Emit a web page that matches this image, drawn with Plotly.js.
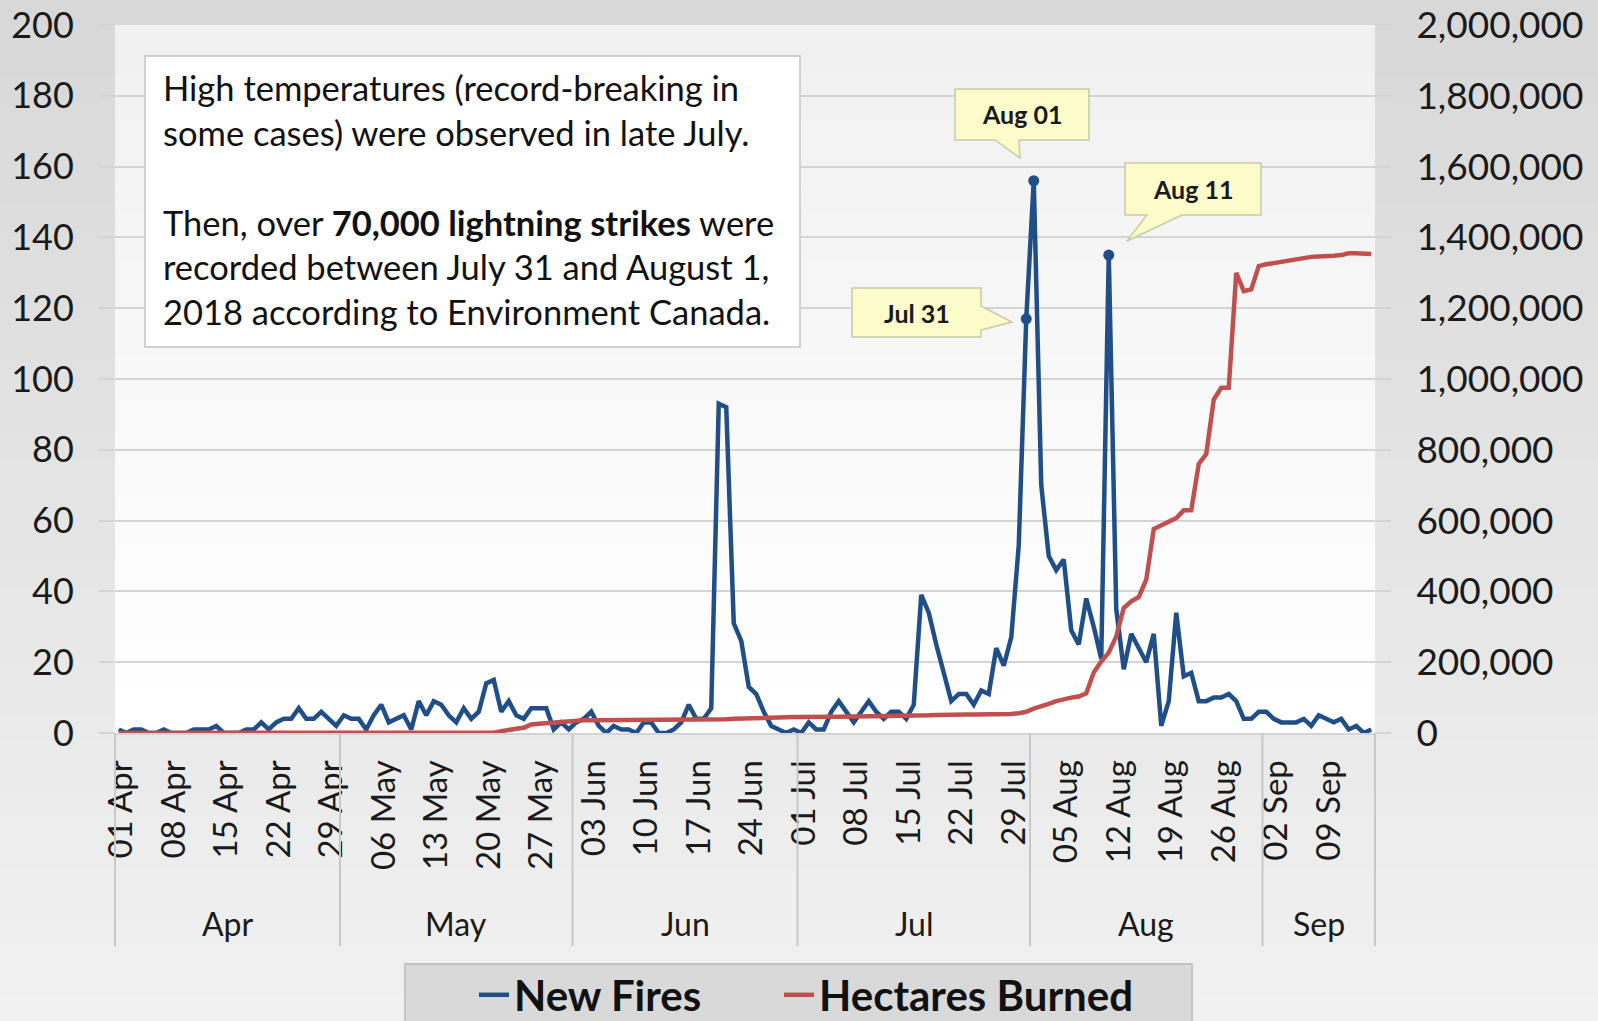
<!DOCTYPE html>
<html>
<head>
<meta charset="utf-8">
<script src="https://cdn.plot.ly/plotly-3.0.1.min.js"></script>
<style>
html,body{margin:0;padding:0;background:#e6e6e6;}
#chart{width:1598px;height:1021px;}
</style>
</head>
<body>
<div id="chart"></div>
<script>
// ---------------- DATA ----------------
const startDate = '2018-04-01';
const dayCount = 168; // 01 Apr .. 15 Sep 2018

const newFires = [
  1,0,1,1,0,0,1,0,0,0,
  1,1,1,2,0,0,0,1,1,3,
  1,3,4,4,7,4,4,6,4,2,
  5,4,4,1,5,8,3,4,5,1,
  9,5,9,8,5,3,7,4,6,14,
  15,6,9,5,4,7,7,7,1,3,
  1,3,4,6,2,0,2,1,1,0,
  3,3,0,0,1,3,8,4,4,7,
  93,92,31,26,13,11,6,2,1,0,
  1,0,3,1,1,6,9,6,3,6,
  9,6,4,6,6,4,8,39,34,25,
  17,9,11,11,8,12,11,24,19,27,
  53,117,156,70,50,46,49,29,25,38,
  30,21,135,35,18,28,24,20,28,2,
  9,34,16,17,9,9,10,10,11,9,
  4,4,6,6,4,3,3,3,4,2,
  5,4,3,4,1,2,0,1
];

const hectaresBurned = [
  0,0,0,0,0,0,0,0,0,0,
  0,0,0,0,0,0,0,0,0,0,
  0,0,0,0,0,0,0,0,0,0,
  0,0,0,0,0,0,0,0,0,0,
  0,0,0,0,0,0,0,0,0,0,
  1000,5000,10000,12000,15000,24000,26000,28000,30000,32000,
  34000,35000,36000,36000,36000,36000,36000,36000,36000,36000,
  36000,36000,36000,36000,36000,36000,37000,37000,37000,37000,
  38000,39000,40000,41000,42000,43000,43000,44000,44000,45000,
  45000,45000,46000,46000,46000,46000,46000,47000,47000,47000,
  47000,47000,47000,48000,48000,48000,48000,49000,50000,51000,
  52000,52000,52000,52000,52000,52000,52000,52000,53000,54000,
  56000,60000,69000,74000,82000,90000,96000,100000,103000,112000,
  171000,202000,227000,273000,353000,372000,384000,433000,576000,588000,
  597000,607000,629000,629000,760000,788000,942000,975000,975000,1300000,
  1248000,1253000,1319000,1324000,1328000,1331000,1335000,1338000,1341000,1345000,
  1346000,1346000,1348000,1350000,1355000,1355000,1354000,1353000
];

const highlightDays = ['2018-07-31','2018-08-01','2018-08-11'];
const calloutLabels = ['Jul 31','Aug 01','Aug 11'];
const monthNames = ['Apr','May','Jun','Jul','Aug','Sep'];
const monthStarts = ['2018-04-01','2018-05-01','2018-06-01','2018-07-01','2018-08-01','2018-09-01'];
const seriesNames = ['New Fires','Hectares Burned'];
const noteText = 'High temperatures (record-breaking in<br>some cases) were observed in late July.<br><br>' +
  'Then, over <b>70,000 lightning strikes</b> were<br>recorded between July 31 and August 1,<br>2018 according to Environment Canada.';

// ---------------- HELPERS ----------------
const DAY = 86400000;
function addDays(s, n){ const d = new Date(Date.parse(s + 'T00:00:00Z') + n*DAY); return d.toISOString().slice(0,10); }
function addHours(s, h){ const d = new Date(Date.parse(s + 'T00:00:00Z') + h*3600000); return d.toISOString().slice(0,19).replace('T',' '); }
const dates = [];
for (let i = 0; i < dayCount; i++) dates.push(addDays(startDate, i));
const rangeStart = addHours(startDate, -12);
const rangeEnd = addHours(dates[dates.length-1], 12);

// pixel -> paper helpers (plot area: x 115..1375, y 25..733)
const PL = 115, PR = 1375, PT = 25, PB = 733;
const px = x => (x - PL) / (PR - PL);
const py = y => (PB - y) / (PB - PT);

function hex(c){ return [parseInt(c.slice(1,3),16),parseInt(c.slice(3,5),16),parseInt(c.slice(5,7),16)]; }
function bands(x0,y0,x1,y1,cTop,cBot,n){
  const a = hex(cTop), b = hex(cBot), out = [];
  for (let k = 0; k < n; k++){
    const t = n === 1 ? 0 : k/(n-1);
    const c = a.map((v,j)=>Math.round(v + (b[j]-v)*t));
    const ya = y0 + (y1-y0)*k/n, yb = y0 + (y1-y0)*(k+1)/n + 0.6;
    out.push({type:'rect', xref:'paper', yref:'paper', layer:'below',
      x0:px(x0), x1:px(x1), y0:py(ya), y1:py(yb),
      fillcolor:'rgb('+c.join(',')+')', line:{width:0}});
  }
  return out;
}
function bubble(box, base, tip, side){
  const [x0,y0,x1,y1] = box;
  let pts;
  if (side === 'bottom') pts = [[x0,y0],[x1,y0],[x1,y1],[base[1],y1],tip,[base[0],y1],[x0,y1]];
  else pts = [[x0,y0],[x1,y0],[x1,base[0]],tip,[x1,base[1]],[x1,y1],[x0,y1]];
  return 'M' + pts.map(p => px(p[0]).toFixed(5) + ',' + py(p[1]).toFixed(5)).join('L') + 'Z';
}

// ---------------- TRACES ----------------
const fireColor = '#1f4e89', haColor = '#c0504d';
const traces = [
  {x: dates, y: newFires, name: seriesNames[0], type:'scatter', mode:'lines',
   line:{color:fireColor, width:4.5}, yaxis:'y', hoverinfo:'x+y', legendwidth:260},
  {x: dates, y: hectaresBurned, name: seriesNames[1], type:'scatter', mode:'lines',
   line:{color:haColor, width:4.5}, yaxis:'y2', hoverinfo:'x+y'},
  {x: highlightDays, y: highlightDays.map(d => newFires[dates.indexOf(d)]), type:'scatter', mode:'markers',
   marker:{color:fireColor, size:11}, yaxis:'y', showlegend:false, hoverinfo:'x+y'}
];

// ---------------- SHAPES ----------------
const shapes = [];
shapes.push(...bands(0,0,1598,1021,'#d8d8d8','#f1f1f1',40));
shapes.push(...bands(PL,PT,PR,PB,'#f1f1f1','#ffffff',30));

// month dividers
const divColor = '#c8c8c8';
const divBottom = py(946);
shapes.push({type:'line', xref:'paper', yref:'paper', x0:0, x1:0, y0:0, y1:divBottom, line:{color:divColor, width:2}, layer:'above'});
shapes.push({type:'line', xref:'paper', yref:'paper', x0:1, x1:1, y0:0, y1:divBottom, line:{color:divColor, width:2}, layer:'above'});
for (let m = 1; m < monthStarts.length; m++){
  const b = addHours(monthStarts[m], -12);
  shapes.push({type:'line', xref:'x', yref:'paper', x0:b, x1:b, y0:0, y1:divBottom, line:{color:divColor, width:2}, layer:'above'});
}

// note box
shapes.push({type:'rect', xref:'paper', yref:'paper', layer:'above',
  x0:px(145), x1:px(800), y0:py(56), y1:py(347),
  fillcolor:'#ffffff', line:{color:'#d0d0d0', width:2}});

// legend box
shapes.push({type:'rect', xref:'paper', yref:'paper', layer:'above',
  x0:px(405), x1:px(1192), y0:py(964), y1:py(1040),
  fillcolor:'#d9d9d9', line:{color:'#c4c4c4', width:2}});

// callouts
const callouts = [
  {box:[852,288,981,337], base:[306,330], tip:[1012,322], side:'right'},
  {box:[955,89,1089,140], base:[995,1019], tip:[1020,158], side:'bottom'},
  {box:[1125,163,1261,215], base:[1147,1182], tip:[1127,241], side:'bottom'}
];
callouts.forEach(c => shapes.push({type:'path', xref:'paper', yref:'paper', layer:'above',
  path: bubble(c.box, c.base, c.tip, c.side), fillcolor:'#fcfccb', line:{color:'#c9c9a8', width:1.5}}));

// ---------------- ANNOTATIONS ----------------
const annotations = [];
annotations.push({xref:'paper', yref:'paper', x:px(161), y:py(199), xanchor:'left', yanchor:'middle',
  align:'left', showarrow:false, text: noteText, font:{family:'Lato', size:34.5, color:'#111111'}});
callouts.forEach((c,k) => annotations.push({xref:'paper', yref:'paper',
  x:px((c.box[0]+c.box[2])/2), y:py((c.box[1]+c.box[3])/2), xanchor:'center', yanchor:'middle',
  showarrow:false, text:'<b>'+calloutLabels[k]+'</b>', font:{family:'Lato', size:25, color:'#1a1a1a'}}));
// month group labels
const rs = Date.parse(rangeStart.replace(' ','T')+'Z'), re = Date.parse(rangeEnd.replace(' ','T')+'Z');
for (let m = 0; m < monthNames.length; m++){
  const a = Math.max(rs, Date.parse(monthStarts[m]+'T00:00:00Z') - 12*3600000);
  const b = m+1 < monthStarts.length ? Date.parse(monthStarts[m+1]+'T00:00:00Z') - 12*3600000 : re;
  const mid = new Date((a + Math.min(b,re))/2).toISOString().slice(0,19).replace('T',' ');
  annotations.push({xref:'x', yref:'paper', x:mid, y:py(923), xanchor:'center', yanchor:'middle',
    showarrow:false, text:monthNames[m], font:{family:'Lato', size:32, color:'#1a1a1a'}});
}

// ---------------- LAYOUT ----------------
const gridC = '#d4d4d4';
const layout = {
  width:1598, height:1021,
  margin:{l:PL, r:1598-PR, t:PT, b:1021-PB, autoexpand:false},
  paper_bgcolor:'#e6e6e6', plot_bgcolor:'rgba(0,0,0,0)',
  font:{family:'Lato', color:'#1a1a1a'},
  showlegend:true,
  xaxis:{type:'date', range:[rangeStart, rangeEnd], tickformat:'%d %b', tick0:startDate, dtick:7*DAY,
    tickangle:-90, ticks:'', showgrid:false, zeroline:false, showline:true, linecolor:gridC, linewidth:2,
    tickfont:{family:'Lato', size:33, color:'#1a1a1a'}, ticklabelstandoff:12, ticklabelshift:3, fixedrange:true},
  yaxis:{range:[0,200], dtick:20, tick0:0, showgrid:true, gridcolor:gridC, gridwidth:2, zeroline:false,
    ticks:'outside', ticklen:15, tickwidth:2, tickcolor:gridC, showline:false,
    tickfont:{family:'Lato', size:36, color:'#1a1a1a'}, ticklabelstandoff:18, fixedrange:true},
  yaxis2:{overlaying:'y', side:'right', range:[0,2000000], dtick:200000, tick0:0, tickformat:',d',
    showgrid:false, zeroline:false, ticks:'outside', ticklen:15, tickwidth:2, tickcolor:gridC, showline:false,
    tickfont:{family:'Lato', size:37, color:'#1a1a1a'}, ticklabelstandoff:18, fixedrange:true},
  legend:{orientation:'h', x:px(474), xanchor:'left', y:py(961), yanchor:'top',
    bgcolor:'rgba(0,0,0,0)', borderwidth:0,
    font:{family:'Lato', size:42, weight:700, color:'#111111'}, traceorder:'normal'},
  shapes: shapes,
  annotations: annotations,
  hovermode:false
};

Plotly.newPlot('chart', traces, layout, {staticPlot:true, displayModeBar:false});
</script>
</body>
</html>
